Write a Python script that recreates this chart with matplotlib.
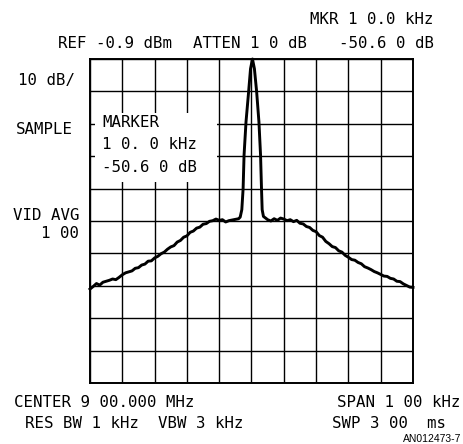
import numpy as np
import matplotlib.pyplot as plt
from matplotlib.patches import Rectangle

# spectrum analyser trace
# offset from center in divisions (10 kHz/div), level in dB below ref (10 dB/div)
div_pos = [0.0, 0.1, 0.2, 0.3, 0.4, 0.5, 0.6, 0.7, 0.8, 0.9,
           1.0, 1.1, 1.2, 1.3, 1.4, 1.5, 1.6, 1.7, 1.8, 1.9,
           2.0, 2.1, 2.2, 2.3, 2.4, 2.5, 2.6, 2.7, 2.8, 2.9,
           3.0, 3.1, 3.2, 3.3, 3.4, 3.5, 3.6, 3.7, 3.8, 3.9,
           4.0, 4.1, 4.2, 4.3, 4.4, 4.5, 4.6, 4.65, 4.70, 4.74,
           4.77, 4.83, 4.91, 4.97, 5.03, 5.09, 5.16, 5.23, 5.28, 5.31,
           5.33, 5.37, 5.45, 5.5, 5.6, 5.7, 5.8, 5.9, 6.0, 6.1,
           6.2, 6.3, 6.4, 6.5, 6.6, 6.7, 6.8, 6.9, 7.0, 7.1,
           7.2, 7.3, 7.4, 7.5, 7.6, 7.7, 7.8, 7.9, 8.0, 8.1,
           8.2, 8.3, 8.4, 8.5, 8.6, 8.7, 8.8, 8.9, 9.0, 9.1,
           9.2, 9.3, 9.4, 9.5, 9.6, 9.7, 9.8, 9.9, 10.0]
level_db = [-71.0, -70.2, -69.3, -69.8, -68.9, -68.6, -68.3, -67.9, -68.1, -67.4,
            -66.6, -66.0, -65.7, -65.4, -64.6, -64.4, -63.6, -63.3, -62.4, -62.3,
            -61.4, -60.9, -60.1, -59.6, -58.7, -58.0, -57.6, -56.5, -56.0, -55.0,
            -54.6, -53.5, -53.1, -52.2, -51.9, -51.0, -50.8, -50.1, -49.9, -49.4,
            -49.8, -49.6, -50.3, -49.9, -49.7, -49.5, -49.3, -48.8, -46.5, -40.1,
            -29.6, -19.4, -10.2, -3.0, 0.0, -3.0, -10.2, -19.4, -29.6, -40.1,
            -46.5, -48.6, -49.2, -49.6, -50.0, -49.3, -49.8, -49.1, -49.4, -49.9,
            -49.6, -50.2, -49.8, -50.7, -50.9, -51.7, -52.0, -52.9, -53.3, -54.5,
            -55.0, -56.3, -57.0, -57.9, -58.2, -59.2, -59.6, -60.6, -61.2, -61.9,
            -62.1, -62.8, -63.2, -64.1, -64.5, -65.0, -65.6, -66.0, -66.5, -67.0,
            -67.1, -67.7, -67.9, -68.6, -68.7, -69.4, -69.9, -70.4, -70.5]

span_khz = 100.0
freq_khz = np.array(div_pos)*span_khz/10.0 - span_khz/2.0

plt.rcParams['font.family'] = ['DejaVu Sans Mono', 'DejaVu Sans']
fs = 11.3
fig = plt.figure(figsize=(4.64, 4.44), dpi=100)
ax = fig.add_axes([90/464, 1-383/444, 323/464, 324/444])

ax.set_xlim(-50, 50)
ax.set_ylim(-100, 0)
ax.set_xticks(np.arange(-50, 51, 10))
ax.set_yticks(np.arange(-100, 1, 10))
ax.tick_params(length=0, labelbottom=False, labelleft=False)
ax.grid(True, color="black", linewidth=1.0)
ax.set_axisbelow(True)
for s in ax.spines.values():
    s.set_linewidth(1.4)

# marker readout box blanks out the grid behind it
ax.add_patch(Rectangle((-48.5, -38.0), 37.8, 21.3, facecolor="white",
                       edgecolor="none", zorder=1.5))
ax.text(-46.3, -19.5, "MARKER", fontsize=fs, va="center", zorder=3)
ax.text(-46.3, -26.3, "1 0. 0 kHz", fontsize=fs, va="center", zorder=3)
ax.text(-46.3, -33.4, "-50.6 0 dB", fontsize=fs, va="center", zorder=3)

ax.plot(freq_khz, level_db, color="black", linewidth=2.1, zorder=4,
        clip_on=False, solid_joinstyle="round")

W, H = 464, 444
def ftxt(x, y, s, ha="left", size=fs, **kw):
    fig.text(x/W, 1-y/H, s, ha=ha, va="center", fontsize=size, **kw)

ftxt(434, 20, "MKR 1 0.0 kHz", ha="right")
ftxt(58, 43, "REF -0.9 dBm")
ftxt(193, 43, "ATTEN 1 0 dB")
ftxt(434, 43, "-50.6 0 dB", ha="right")
ftxt(18, 80, "10 dB/")
ftxt(16, 130, "SAMPLE")
ftxt(13, 215, "VID AVG")
ftxt(79, 233, "1 00", ha="right")
ftxt(14, 402, "CENTER 9 00.000 MHz")
ftxt(25, 423, "RES BW 1 kHz  VBW 3 kHz")
ftxt(461, 402, "SPAN 1 00 kHz", ha="right")
ftxt(332, 423, "SWP 3 00  ms")
ftxt(461, 439, "AN012473-7", ha="right", size=7.5, family="Liberation Sans")

fig.savefig("out.png", dpi=100)
